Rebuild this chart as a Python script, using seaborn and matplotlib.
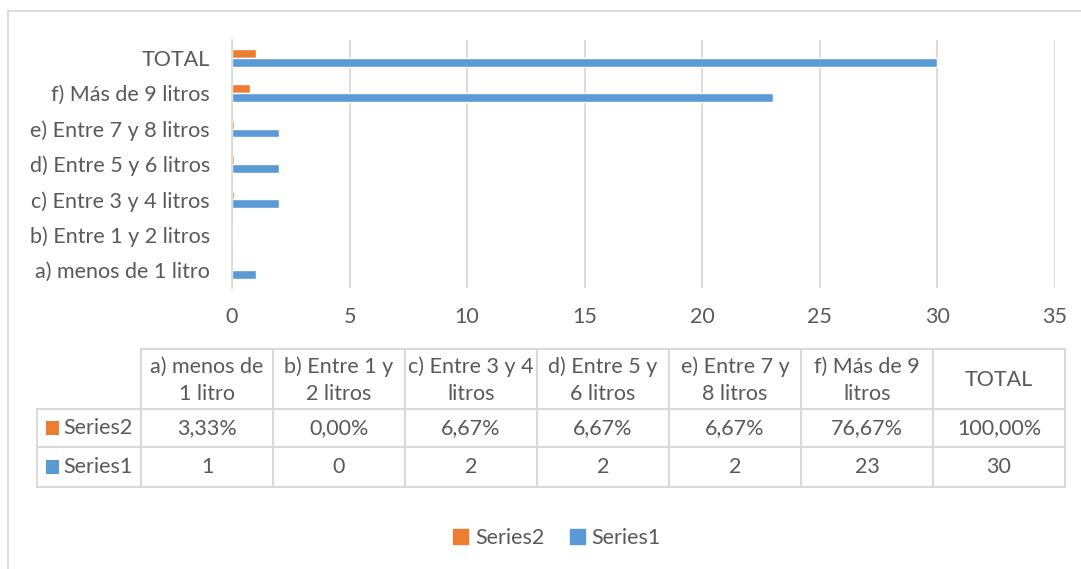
import matplotlib
matplotlib.use("Agg")
import matplotlib.pyplot as plt
import seaborn as sns
import pandas as pd
from matplotlib.lines import Line2D
from matplotlib.patches import Rectangle, Patch

# ---- data ----
categories = ["a) menos de 1 litro", "b) Entre 1 y 2 litros", "c) Entre 3 y 4 litros",
              "d) Entre 5 y 6 litros", "e) Entre 7 y 8 litros", "f) Más de 9 litros", "TOTAL"]
table_headers = ["a) menos de\n1 litro", "b) Entre 1 y\n2 litros", "c) Entre 3 y 4\nlitros",
                 "d) Entre 5 y\n6 litros", "e) Entre 7 y\n8 litros", "f) Más de 9\nlitros", "TOTAL"]
series1 = [1, 0, 2, 2, 2, 23, 30]
series2 = [0.0333, 0.0, 0.0667, 0.0667, 0.0667, 0.7667, 1.0]
series_names = ["Series2", "Series1"]
x_ticks = [0, 5, 10, 15, 20, 25, 30, 35]

C_ORANGE = "#ED7D31"
C_BLUE = "#5B9BD5"
C_TEXT = "#595959"
C_GRID = "#D9D9D9"

sns.set_theme(style="white")
plt.rcParams["font.family"] = ["Lato", "DejaVu Sans"]

W, H = 1081, 569
fig = plt.figure(figsize=(W / 100, H / 100), dpi=100)

def fx(px):
    return px / W

def fy(py):
    return 1 - py / H

ax_l, ax_r, ax_t, ax_b = 232, 1055, 40, 288
ax = fig.add_axes([fx(ax_l), fy(ax_b), fx(ax_r - ax_l), fy(ax_t) - fy(ax_b)])

df = pd.DataFrame({
    "cat": categories * 2,
    "val": series2 + series1,
    "series": ["Series2"] * len(categories) + ["Series1"] * len(categories),
})
order = categories[::-1]
sns.barplot(data=df, y="cat", x="val", hue="series", order=order,
            hue_order=series_names, palette={"Series2": C_ORANGE, "Series1": C_BLUE},
            orient="h", width=0.5, gap=0, ax=ax, legend=False, saturation=1)

ax.set_xlim(0, 35)
ax.set_xticks(x_ticks)
ax.set_xticklabels([str(t) for t in x_ticks])
ax.set_ylim(6.5, -0.5)
ax.set_xlabel("")
ax.set_ylabel("")
ax.grid(axis="x", color=C_GRID, linewidth=1.3)
ax.set_axisbelow(True)
for s in ["top", "right", "bottom"]:
    ax.spines[s].set_visible(False)
ax.spines["left"].set_color(C_GRID)
ax.spines["left"].set_linewidth(1.3)
ax.tick_params(axis="both", length=0, labelsize=15.5, colors=C_TEXT)
ax.tick_params(axis="x", pad=14)
ax.tick_params(axis="y", pad=16)

# ---- chart area border ----
fig.add_artist(Line2D([fx(8), fx(1081)], [fy(11), fy(11)], color=C_GRID, lw=1.3))
fig.add_artist(Line2D([fx(8), fx(8)], [fy(11), fy(569)], color=C_GRID, lw=1.3))

# ---- data table ----
col_x = [141 + 132 * i for i in range(8)]
label_x0 = 37
row_y = [349, 409, 447, 487]

def hline(x0, x1, y):
    fig.add_artist(Line2D([fx(x0), fx(x1)], [fy(y), fy(y)], color=C_GRID, lw=1.5))

def vline(x, y0, y1):
    fig.add_artist(Line2D([fx(x), fx(x)], [fy(y0), fy(y1)], color=C_GRID, lw=1.5))

hline(col_x[0], col_x[-1], row_y[0])
for y in row_y[1:]:
    hline(label_x0, col_x[-1], y)
vline(label_x0, row_y[1], row_y[3])
for x in col_x:
    vline(x, row_y[0], row_y[3])

tfs = 15.5
for i, h in enumerate(table_headers):
    cx = (col_x[i] + col_x[i + 1]) / 2
    fig.text(fx(cx), fy((row_y[0] + row_y[1]) / 2 + 1), h, ha="center", va="center",
             fontsize=tfs, color=C_TEXT, linespacing=1.45)
for i, v in enumerate(series2):
    cx = (col_x[i] + col_x[i + 1]) / 2
    s = f"{v * 100:.2f}%".replace(".", ",")
    fig.text(fx(cx), fy((row_y[1] + row_y[2]) / 2), s, ha="center", va="center",
             fontsize=tfs, color=C_TEXT)
for i, v in enumerate(series1):
    cx = (col_x[i] + col_x[i + 1]) / 2
    fig.text(fx(cx), fy((row_y[2] + row_y[3]) / 2), str(v), ha="center", va="center",
             fontsize=tfs, color=C_TEXT)

for name, col, (y0, y1) in [("Series2", C_ORANGE, (row_y[1], row_y[2])),
                            ("Series1", C_BLUE, (row_y[2], row_y[3]))]:
    cy = (y0 + y1) / 2
    fig.add_artist(Rectangle((fx(46), fy(cy + 7)), fx(13), fy(cy - 7) - fy(cy + 7),
                             color=col, lw=0))
    fig.text(fx(63), fy(cy), name, ha="left", va="center", fontsize=tfs, color=C_TEXT)

# ---- legend ----
handles = [Patch(color=C_ORANGE, label="Series2"), Patch(color=C_BLUE, label="Series1")]
fig.legend(handles=handles, loc="center", bbox_to_anchor=(fx(557), fy(538)), ncol=2,
           frameon=False, fontsize=15.5, labelcolor=C_TEXT, handlelength=0.7,
           handleheight=0.7, handletextpad=0.3, columnspacing=1.2)

fig.savefig("out.png", dpi=100)
